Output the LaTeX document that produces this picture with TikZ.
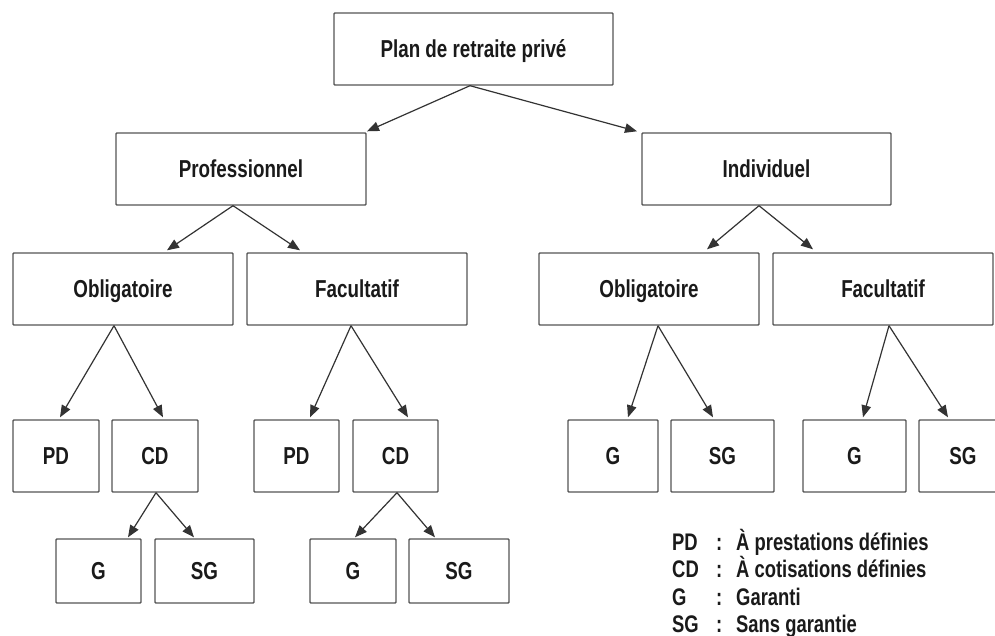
\documentclass[tikz,border=0pt]{standalone}
\usepackage{fontspec}
\setmainfont{Liberation Sans}[FakeStretch=0.767]
\usetikzlibrary{arrows.meta}
\definecolor{boxgray}{HTML}{555555}
\definecolor{arrgray}{HTML}{333333}
\definecolor{txt}{HTML}{1A1A1A}
\newcommand{\boxfont}{\fontsize{24.5pt}{28pt}\selectfont\bfseries}
\newcommand{\legfont}{\fontsize{24pt}{27pt}\selectfont\bfseries}
\begin{document}
\begin{tikzpicture}[x=1pt,y=-1pt,
  box/.style={draw=boxgray, line width=1.4pt, fill=white, rounded corners=0.8pt,
    inner sep=0pt, font=\boxfont, text=txt, text height=17pt, text depth=0pt,
    minimum height=72pt},
  lowbox/.style={box, minimum height=64pt},
  arr/.style={draw=arrgray, line width=1.2pt, -{Triangle[length=12pt,width=9.5pt]}},
  legline/.style={anchor=base west, inner sep=0pt, font=\legfont, text=txt}
]
\useasboundingbox (0,0) rectangle (995,636);
\fill[white] (0,0) rectangle (995,636);

% level 0
\node[box, minimum width=279pt] (top) at (473.5,49) {Plan de retraite privé};
% level 1
\node[box, minimum width=250pt] (prof) at (241,169) {Professionnel};
\node[box, minimum width=249pt] (ind) at (766.5,169) {Individuel};
% level 2
\node[box, minimum width=220pt] (obl1) at (123,289) {Obligatoire};
\node[box, minimum width=220pt] (fac1) at (357,289) {Facultatif};
\node[box, minimum width=220pt] (obl2) at (649,289) {Obligatoire};
\node[box, minimum width=220pt] (fac2) at (883,289) {Facultatif};
% level 3
\node[box, minimum width=86pt] (pd1) at (56,456) {PD};
\node[box, minimum width=86pt] (cd1) at (155,456) {CD};
\node[box, minimum width=85pt] (pd2) at (296.5,456) {PD};
\node[box, minimum width=85pt] (cd2) at (395.5,456) {CD};
\node[box, minimum width=90pt] (g1) at (613,456) {G};
\node[box, minimum width=103pt] (sg1) at (722.5,456) {SG};
\node[box, minimum width=103pt] (g2) at (854.5,456) {G};
\node[box, minimum width=88pt] (sg2) at (963,456) {SG};
% level 4
\node[lowbox, minimum width=85pt] (g3) at (98.5,571) {G};
\node[lowbox, minimum width=99pt] (sg3) at (204.5,571) {SG};
\node[lowbox, minimum width=86pt] (g4) at (353,571) {G};
\node[lowbox, minimum width=100pt] (sg4) at (459,571) {SG};

% connectors
\draw[arr] ([xshift=-3.5pt]top.south) -- ([xshift=126pt,yshift=1pt]prof.north);
\draw[arr] ([xshift=-3.5pt]top.south) -- ([xshift=-129.5pt,yshift=1pt]ind.north);
\draw[arr] ([xshift=-8pt]prof.south) -- ([xshift=44pt,yshift=2pt]obl1.north);
\draw[arr] ([xshift=-8pt]prof.south) -- ([xshift=-57pt,yshift=2pt]fac1.north);
\draw[arr] ([xshift=-7.5pt]ind.south) -- ([xshift=58pt,yshift=3pt]obl2.north);
\draw[arr] ([xshift=-7.5pt]ind.south) -- ([xshift=-70pt,yshift=3pt]fac2.north);
\draw[arr] ([xshift=-9pt]obl1.south) -- ([xshift=4pt,yshift=2pt]pd1.north);
\draw[arr] ([xshift=-9pt]obl1.south) -- ([xshift=8pt,yshift=2pt]cd1.north);
\draw[arr] ([xshift=-6pt]fac1.south) -- ([xshift=13.5pt,yshift=2pt]pd2.north);
\draw[arr] ([xshift=-6pt]fac1.south) -- ([xshift=12.5pt,yshift=2pt]cd2.north);
\draw[arr] ([xshift=9pt]obl2.south) -- ([xshift=15pt,yshift=2pt]g1.north);
\draw[arr] ([xshift=9pt]obl2.south) -- ([xshift=-9.5pt,yshift=2pt]sg1.north);
\draw[arr] ([xshift=6pt]fac2.south) -- ([xshift=8.5pt,yshift=2pt]g2.north);
\draw[arr] ([xshift=6pt]fac2.south) -- ([xshift=-15pt,yshift=2pt]sg2.north);
\draw[arr] ([xshift=1pt]cd1.south) -- ([xshift=29.5pt,yshift=1pt]g3.north);
\draw[arr] ([xshift=1pt]cd1.south) -- ([xshift=-10.5pt,yshift=1pt]sg3.north);
\draw[arr] ([xshift=1.5pt]cd2.south) -- ([xshift=2pt,yshift=1pt]g4.north);
\draw[arr] ([xshift=1.5pt]cd2.south) -- ([xshift=-24pt,yshift=1pt]sg4.north);

% legend
\node[legline] (leg1) at (672,550) {\makebox[44pt][l]{PD}\makebox[20pt][l]{:}À prestations définies};
\node[legline] (leg2) at (672,577.5) {\makebox[44pt][l]{CD}\makebox[20pt][l]{:}À cotisations définies};
\node[legline] (leg3) at (672,605) {\makebox[44pt][l]{G}\makebox[20pt][l]{:}Garanti};
\node[legline] (leg4) at (672,632.5) {\makebox[44pt][l]{SG}\makebox[20pt][l]{:}Sans garantie};
\end{tikzpicture}
\end{document}
